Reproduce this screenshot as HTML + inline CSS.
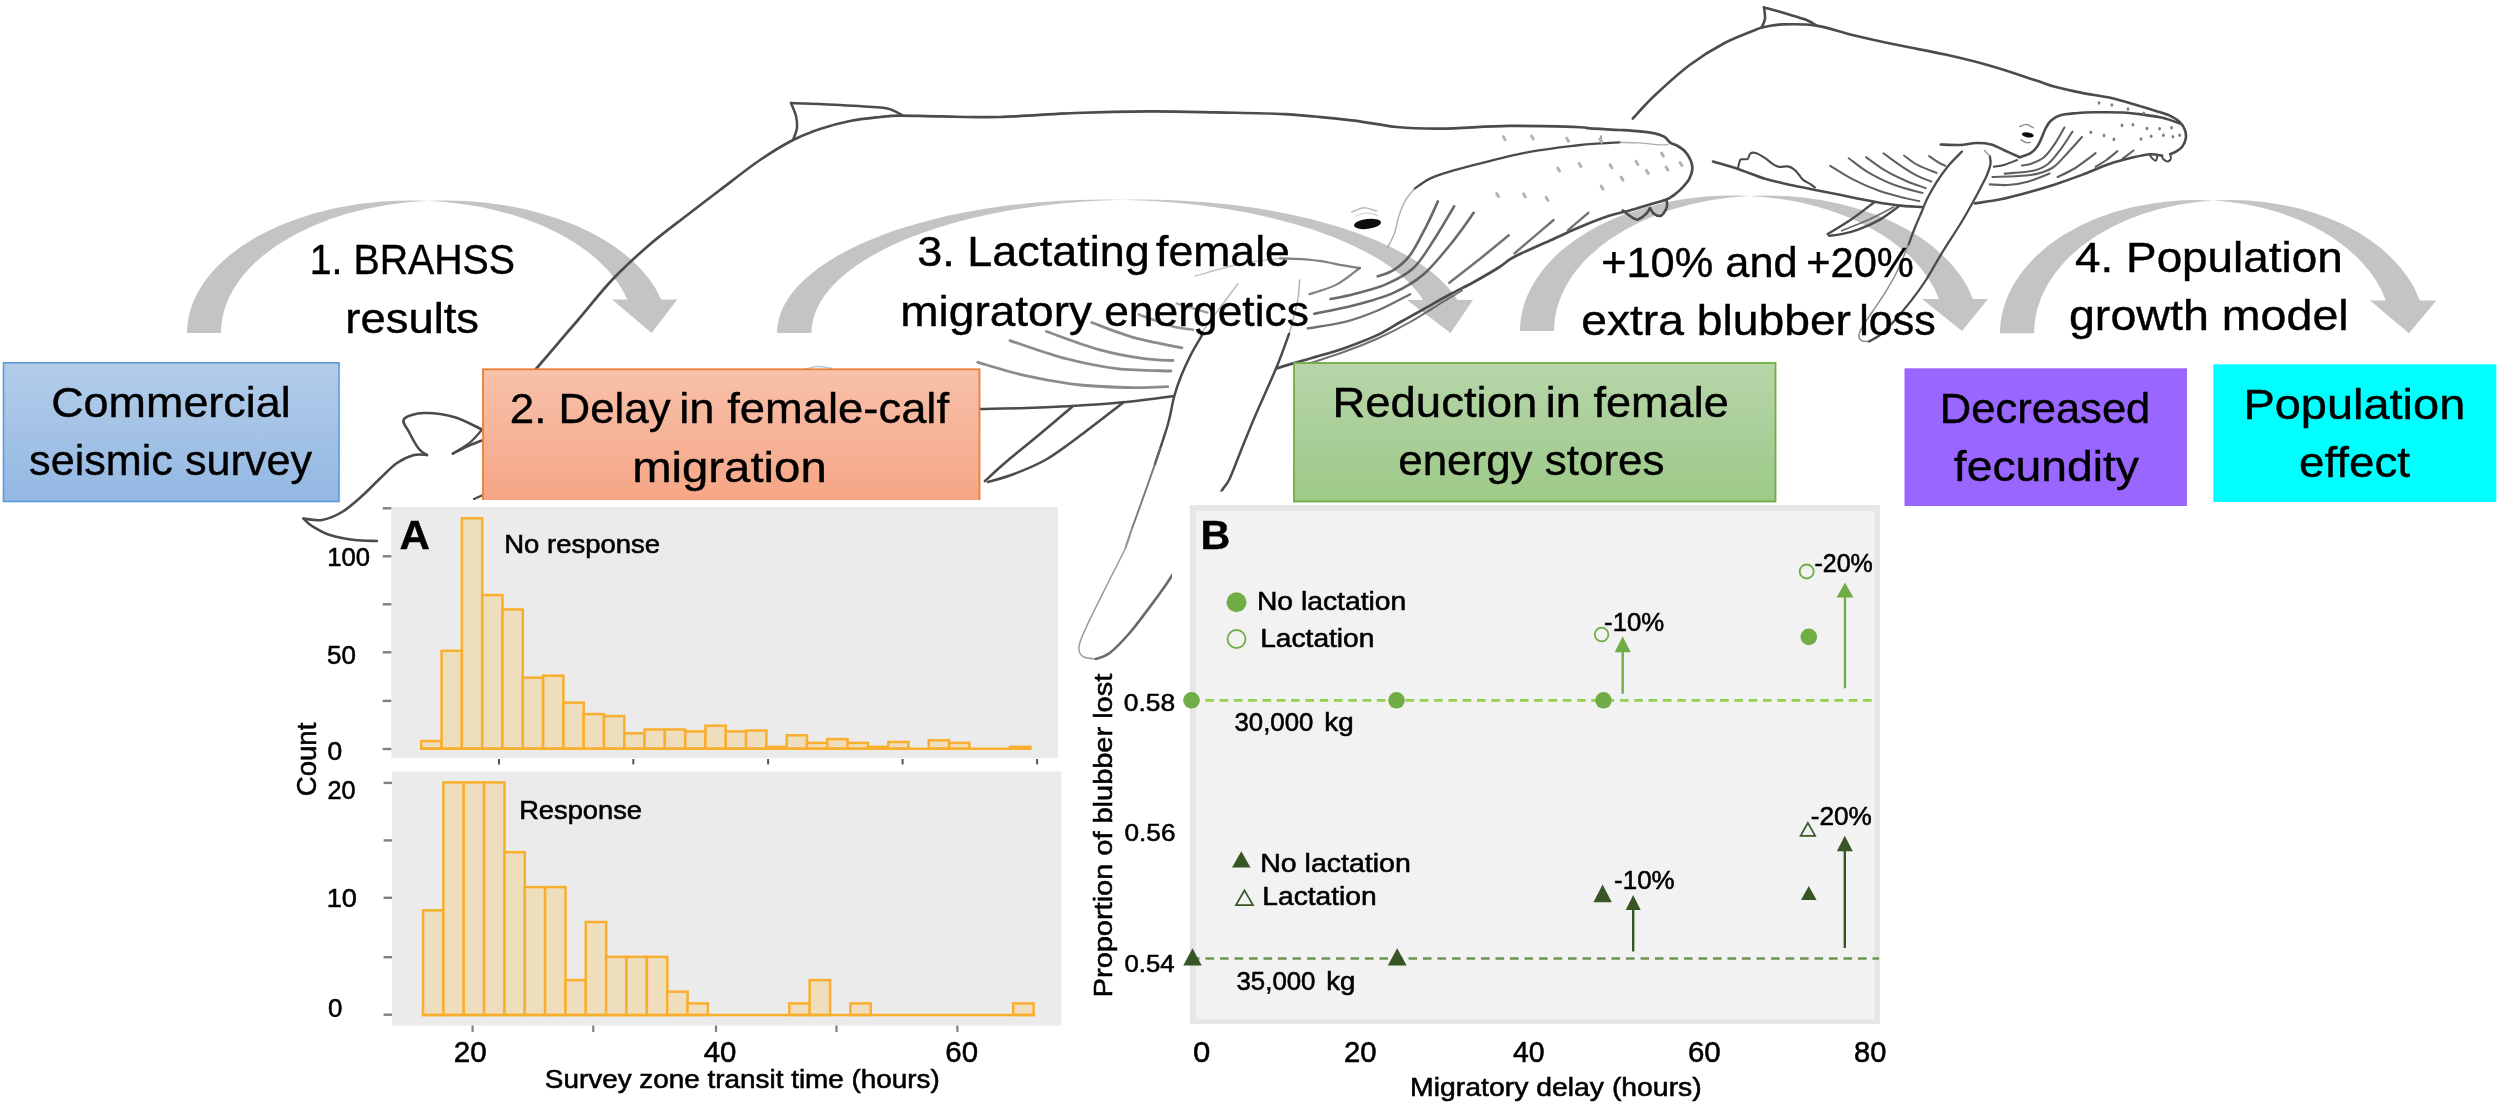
<!DOCTYPE html>
<html lang="en"><head><meta charset="utf-8"><title>Figure</title>
<style>html,body{margin:0;padding:0;background:#fff}svg{display:block}text{font-family:"Liberation Sans", Arial, sans-serif;}</style>
</head><body>
<svg width="2500" height="1106" viewBox="0 0 2500 1106">
<defs>
<linearGradient id="gb" x1="0" y1="0" x2="0" y2="1"><stop offset="0" stop-color="#b3cdea"/><stop offset="0.5" stop-color="#a4c2e6"/><stop offset="1" stop-color="#93b8e3"/></linearGradient>
<linearGradient id="go" x1="0" y1="0" x2="0" y2="1"><stop offset="0" stop-color="#f8c1aa"/><stop offset="0.5" stop-color="#f6b398"/><stop offset="1" stop-color="#f6a584"/></linearGradient>
<linearGradient id="gg" x1="0" y1="0" x2="0" y2="1"><stop offset="0" stop-color="#b6d6a8"/><stop offset="0.5" stop-color="#aacf9a"/><stop offset="1" stop-color="#9dca87"/></linearGradient>
<filter id="soft" x="0" y="0" width="2500" height="1106" filterUnits="userSpaceOnUse"><feGaussianBlur stdDeviation="0.7"/></filter>
</defs>
<rect width="2500" height="1106" fill="#fff"/>

<g id="arrows">
<path d="M187.0,333.0 A223.8,132.6 0 0 1 427.8,200.8 A223.8,132.6 0 0 1 661.3,299.5 L677.3,299.5 L651.6,333.0 L612.0,299.5 L627.3,299.5 A223.8,132.6 0 0 0 427.8,200.8 A223.8,132.6 0 0 0 221.0,333.0 Z" fill="#c4c4c4"/>
<path d="M777.0,333.0 A328.1,133.5 0 0 1 1122.4,199.7 A328.1,133.5 0 0 1 1457.6,300.0 L1473.0,300.0 L1450.5,333.0 L1407.0,300.0 L1423.1,300.0 A328.1,133.5 0 0 0 1122.4,199.7 A328.1,133.5 0 0 0 811.5,333.0 Z" fill="#c4c4c4"/>
<path d="M1520.0,331.0 A212.5,135.5 0 0 1 1749.5,195.9 A212.5,135.5 0 0 1 1973.0,299.0 L1988.0,299.0 L1962.0,331.0 L1922.0,299.0 L1939.0,299.0 A212.5,135.5 0 0 0 1749.5,195.9 A212.5,135.5 0 0 0 1554.0,331.0 Z" fill="#c4c4c4"/>
<path d="M2000.0,333.3 A196.0,133.3 0 0 1 2213.0,200.5 A196.0,133.3 0 0 1 2419.9,300.4 L2436.4,300.4 L2409.0,333.3 L2370.0,300.4 L2385.9,300.4 A196.0,133.3 0 0 0 2213.0,200.5 A196.0,133.3 0 0 0 2034.0,333.3 Z" fill="#c4c4c4"/>
</g>
<g id="whales" filter="url(#soft)"><path d="M536.0,369.0 C543.0,360.8 565.3,334.8 578.0,320.0 C590.7,305.2 600.3,292.3 612.0,280.0 C623.7,267.7 635.7,256.7 648.0,246.0 C660.3,235.3 674.0,225.3 686.0,216.0 C698.0,206.7 707.7,199.3 720.0,190.0 C732.3,180.7 747.8,168.3 760.0,160.0 C772.2,151.7 783.0,145.2 793.0,140.0 C803.0,134.8 810.5,132.2 820.0,129.0 C829.5,125.8 840.0,123.0 850.0,121.0 C860.0,119.0 871.7,117.9 880.0,117.0 C888.3,116.1 890.0,115.7 900.0,115.6 C910.0,115.5 923.3,116.2 940.0,116.4 C956.7,116.6 977.5,117.6 1000.0,117.0 C1022.5,116.4 1050.0,114.0 1075.0,113.0 C1100.0,112.0 1126.3,111.4 1150.0,111.3 C1173.7,111.2 1194.6,111.9 1217.0,112.4 C1239.4,112.9 1262.1,112.9 1284.6,114.2 C1307.1,115.5 1333.1,118.2 1351.8,120.3 C1370.5,122.4 1381.8,125.6 1396.7,127.0 C1411.7,128.4 1422.8,128.8 1441.5,128.6 C1460.2,128.4 1486.4,126.2 1508.8,125.9 C1531.2,125.6 1562.5,126.6 1576.0,127.0 C1589.5,127.4 1582.7,127.9 1590.0,128.4 C1597.3,128.9 1611.5,129.5 1619.8,130.0 C1628.1,130.5 1633.9,130.8 1639.7,131.4 C1645.5,132.0 1650.4,132.5 1654.6,133.4 C1658.8,134.3 1661.9,135.3 1664.6,136.9 C1667.2,138.5 1668.5,141.5 1670.5,142.9 C1672.5,144.3 1674.2,144.0 1676.5,145.3 C1678.8,146.6 1682.1,148.4 1684.4,150.8 C1686.7,153.2 1689.1,156.8 1690.4,159.8 C1691.7,162.8 1692.6,165.6 1692.4,168.7 C1692.2,171.8 1691.1,175.4 1689.4,178.6 C1687.7,181.8 1684.9,184.9 1682.4,187.6 C1679.9,190.3 1677.2,192.6 1674.5,194.6 C1671.8,196.6 1670.7,197.8 1666.5,199.5 C1662.3,201.2 1655.7,202.7 1649.6,204.5 C1643.5,206.3 1636.4,208.7 1629.8,210.5 C1623.2,212.3 1617.8,212.9 1609.9,215.5 C1602.0,218.1 1591.9,222.0 1582.5,225.9 C1573.1,229.8 1563.2,234.6 1553.6,238.9 C1544.0,243.2 1531.9,248.5 1524.7,251.9 C1517.5,255.3 1514.4,256.6 1510.2,259.1 C1506.0,261.6 1505.3,263.3 1499.5,267.0 C1493.7,270.7 1483.6,276.6 1475.3,281.2 C1467.0,285.8 1458.5,289.8 1449.7,294.5 C1440.9,299.2 1430.9,305.1 1422.6,309.7 C1414.3,314.3 1407.5,318.1 1400.0,322.3 C1392.5,326.5 1386.9,330.6 1377.7,334.9 C1368.5,339.2 1355.8,344.1 1345.0,347.9 C1334.2,351.7 1321.3,355.1 1312.6,357.7 C1303.9,360.3 1299.1,361.6 1293.0,363.4 C1286.9,365.2 1278.8,367.7 1276.0,368.6" fill="none" stroke="#4c4c4c" stroke-width="2.7" stroke-linecap="round" stroke-linejoin="round" opacity="1" />
<path d="M793.0,140.0 C793.7,138.0 796.5,132.0 797.0,128.0 C797.5,124.0 797.0,120.2 796.0,116.0 C795.0,111.8 791.8,105.2 791.0,103.0" fill="none" stroke="#4c4c4c" stroke-width="2.5" stroke-linecap="round" stroke-linejoin="round" opacity="1" />
<path d="M791.0,103.0 C799.2,103.3 825.2,104.2 840.0,105.0 C854.8,105.8 871.3,106.8 880.0,107.6 C888.7,108.4 888.3,108.8 892.0,110.0 C895.7,111.2 900.3,114.2 902.0,115.0" fill="none" stroke="#4c4c4c" stroke-width="2.5" stroke-linecap="round" stroke-linejoin="round" opacity="1" />
<path d="M481.0,429.0 C476.5,427.0 463.5,419.7 454.0,417.0 C444.5,414.3 432.3,412.7 424.0,413.0 C415.7,413.3 406.5,415.8 404.0,419.0 C401.5,422.2 406.5,427.0 409.0,432.0 C411.5,437.0 416.0,445.2 419.0,449.0 C422.0,452.8 425.7,454.0 427.0,455.0" fill="none" stroke="#4c4c4c" stroke-width="2.6" stroke-linecap="round" stroke-linejoin="round" opacity="1" />
<path d="M427.0,455.0 C424.8,455.0 419.0,453.7 414.0,455.0 C409.0,456.3 402.8,459.0 397.0,463.0 C391.2,467.0 385.3,473.5 379.5,479.0 C373.7,484.5 368.2,490.5 362.0,496.0 C355.8,501.5 348.7,508.0 342.0,512.0 C335.3,516.0 328.4,518.9 322.0,520.0 C315.6,521.1 306.7,518.8 303.6,518.6" fill="none" stroke="#4c4c4c" stroke-width="2.6" stroke-linecap="round" stroke-linejoin="round" opacity="1" />
<path d="M303.6,518.6 C305.0,519.8 307.6,523.3 312.0,526.0 C316.4,528.7 322.9,532.7 330.0,535.0 C337.1,537.3 346.8,539.0 354.6,540.0 C362.4,541.0 373.3,540.8 377.0,541.0" fill="none" stroke="#4c4c4c" stroke-width="2.6" stroke-linecap="round" stroke-linejoin="round" opacity="1" />
<path d="M452.8,453.6 C455.1,452.5 461.6,449.0 466.4,446.8 C471.1,444.6 478.8,441.7 481.3,440.7" fill="none" stroke="#4c4c4c" stroke-width="2.6" stroke-linecap="round" stroke-linejoin="round" opacity="1" />
<path d="M481.3,430.5 C479.5,432.4 475.2,438.1 470.5,442.0 C465.8,445.9 455.8,451.7 452.8,453.6" fill="none" stroke="#4c4c4c" stroke-width="2.2" stroke-linecap="round" stroke-linejoin="round" opacity="1" />
<path d="M474.0,499.0 L483.0,495.0" fill="none" stroke="#4c4c4c" stroke-width="2.4" stroke-linecap="round" stroke-linejoin="round" opacity="1" />
<path d="M979.9,409.0 C987.6,408.8 1010.6,408.5 1026.0,408.0 C1041.3,407.5 1055.9,406.9 1072.0,406.0 C1088.1,405.1 1105.7,404.0 1122.7,402.3 C1139.7,400.6 1165.5,397.1 1174.0,396.0" fill="none" stroke="#4c4c4c" stroke-width="2.5" stroke-linecap="round" stroke-linejoin="round" opacity="1" />
<path d="M1072.0,407.0 C1066.7,411.5 1051.0,424.8 1040.0,434.0 C1029.0,443.2 1015.2,454.2 1006.0,462.0 C996.8,469.8 988.5,477.8 985.0,481.0" fill="none" stroke="#4c4c4c" stroke-width="2.6" stroke-linecap="round" stroke-linejoin="round" opacity="1" />
<path d="M1122.7,403.0 C1116.4,407.8 1097.6,422.7 1085.0,432.0 C1072.4,441.3 1058.8,452.0 1047.0,459.0 C1035.2,466.0 1023.8,470.2 1014.0,474.0 C1004.2,477.8 992.3,480.7 988.0,482.0" fill="none" stroke="#4c4c4c" stroke-width="2.6" stroke-linecap="round" stroke-linejoin="round" opacity="1" />
<path d="M1238.0,283.6 C1235.3,287.2 1227.2,298.1 1222.0,305.0 C1216.8,311.9 1210.7,319.8 1207.0,325.0 C1203.3,330.2 1201.2,334.2 1200.0,336.0" fill="none" stroke="#9a9a9a" stroke-width="1.4" stroke-linecap="round" stroke-linejoin="round" opacity="0.7" />
<path d="M1202.0,335.4 C1200.2,338.4 1194.9,346.9 1191.5,353.5 C1188.1,360.1 1184.4,367.8 1181.5,375.0 C1178.6,382.2 1176.2,388.8 1174.0,397.0 C1171.8,405.2 1171.2,412.8 1168.0,424.0 C1164.8,435.2 1157.2,457.3 1155.0,464.0" fill="none" stroke="#4c4c4c" stroke-width="2.5" stroke-linecap="round" stroke-linejoin="round" opacity="1" />
<path d="M1160.0,449.0 C1159.2,451.5 1158.2,454.9 1155.0,464.0 C1151.8,473.1 1144.9,492.8 1141.0,503.6 C1137.1,514.4 1134.4,521.6 1131.8,529.0 C1129.2,536.4 1126.6,544.6 1125.6,547.7" fill="none" stroke="#6a6a6a" stroke-width="1.9" stroke-linecap="round" stroke-linejoin="round" opacity="0.9" />
<path d="M1131.8,529.0 C1130.8,532.1 1129.3,539.3 1125.6,547.7 C1121.9,556.1 1115.0,568.9 1109.7,579.5 C1104.4,590.1 1098.5,601.7 1093.8,611.3 C1089.1,620.9 1084.3,630.9 1081.8,637.2 C1079.3,643.5 1078.6,645.9 1078.9,649.2 C1079.2,652.5 1081.0,655.4 1083.8,657.0 C1086.6,658.6 1093.8,658.7 1095.8,659.0" fill="none" stroke="#9a9a9a" stroke-width="1.5" stroke-linecap="round" stroke-linejoin="round" opacity="1" />
<path d="M1095.8,659.0 C1098.1,658.0 1104.1,657.3 1109.7,653.0 C1115.3,648.7 1123.0,640.6 1129.6,633.0 C1136.2,625.4 1143.5,615.3 1149.5,607.4 C1155.5,599.5 1161.2,591.6 1165.4,585.5 C1169.7,579.4 1173.4,573.4 1175.0,571.0" fill="none" stroke="#6a6a6a" stroke-width="2.6" stroke-linecap="round" stroke-linejoin="round" opacity="1" />
<path d="M1299.7,280.0 C1299.4,283.0 1299.1,291.3 1298.0,298.0 C1296.9,304.7 1294.5,314.0 1293.0,320.0 C1291.5,326.0 1289.7,331.7 1289.0,334.0" fill="none" stroke="#9a9a9a" stroke-width="1.4" stroke-linecap="round" stroke-linejoin="round" opacity="0.8" />
<path d="M1289.0,334.0 C1286.8,339.8 1281.8,354.7 1276.0,368.6 C1270.2,382.5 1260.5,403.4 1254.5,417.5 C1248.5,431.6 1244.2,442.6 1240.0,453.0 C1235.8,463.4 1232.2,473.5 1229.0,480.0 C1225.8,486.5 1225.8,483.7 1221.0,492.0 C1216.2,500.3 1207.7,516.8 1200.0,530.0 C1192.3,543.2 1179.2,564.2 1175.0,571.0" fill="none" stroke="#4c4c4c" stroke-width="2.5" stroke-linecap="round" stroke-linejoin="round" opacity="1" />
<path d="M977.8,362.3 C985.9,364.6 1009.4,372.1 1026.6,375.9 C1043.8,379.7 1062.8,383.1 1080.9,385.0 C1099.0,386.9 1120.5,387.3 1135.0,387.6 C1149.5,387.9 1162.2,386.9 1167.7,386.7" fill="none" stroke="#5a5a5a" stroke-width="2.8" stroke-linecap="round" stroke-linejoin="round" opacity="0.7" />
<path d="M1010.0,340.6 C1018.8,343.5 1045.0,353.1 1062.8,357.8 C1080.6,362.5 1099.0,366.4 1117.0,368.6 C1135.0,370.8 1162.0,370.6 1171.0,371.0" fill="none" stroke="#5a5a5a" stroke-width="2.8" stroke-linecap="round" stroke-linejoin="round" opacity="0.7" />
<path d="M1046.5,331.5 C1055.2,334.5 1082.8,345.1 1099.0,349.6 C1115.2,354.1 1131.7,356.9 1144.0,358.7 C1156.3,360.5 1168.2,360.2 1173.0,360.5" fill="none" stroke="#5a5a5a" stroke-width="2.8" stroke-linecap="round" stroke-linejoin="round" opacity="0.7" />
<path d="M1091.7,322.5 C1098.9,325.1 1120.0,333.7 1135.0,337.9 C1150.0,342.1 1174.2,346.1 1182.0,347.8" fill="none" stroke="#5a5a5a" stroke-width="2.8" stroke-linecap="round" stroke-linejoin="round" opacity="0.7" />
<path d="M1138.7,314.4 C1144.1,316.3 1162.2,323.4 1171.3,326.0 C1180.3,328.6 1189.4,329.1 1193.0,329.7" fill="none" stroke="#5a5a5a" stroke-width="2.6" stroke-linecap="round" stroke-linejoin="round" opacity="0.65" />
<path d="M1176.7,303.5 L1207.5,312.6" fill="none" stroke="#5a5a5a" stroke-width="2.2" stroke-linecap="round" stroke-linejoin="round" opacity="0.6" />
<ellipse cx="1367.5" cy="223.9" rx="13.5" ry="5" fill="#0a0a0a" transform="rotate(-7 1367.5 223.9)"/>
<path d="M1351.8,212.0 C1353.8,211.3 1359.9,207.9 1364.0,207.7 C1368.1,207.5 1374.4,210.4 1376.5,211.0" fill="none" stroke="#bdbdbd" stroke-width="1.6" stroke-linecap="round" stroke-linejoin="round" opacity="1" />
<path d="M1356.0,216.0 C1357.7,215.5 1362.3,213.1 1366.0,213.0 C1369.7,212.9 1376.0,215.1 1378.0,215.5" fill="none" stroke="#cfcfcf" stroke-width="1.2" stroke-linecap="round" stroke-linejoin="round" opacity="1" />
<path d="M1619.8,142.4 C1616.7,142.6 1608.3,142.9 1601.0,143.4 C1593.7,143.9 1587.7,144.1 1576.0,145.5 C1564.3,146.9 1545.9,149.0 1531.0,151.7 C1516.1,154.4 1499.4,158.6 1486.4,161.8 C1473.4,165.0 1462.2,167.9 1452.8,170.7 C1443.4,173.5 1436.4,175.6 1430.0,178.6 C1423.6,181.6 1417.2,187.0 1414.6,188.7" fill="none" stroke="#4c4c4c" stroke-width="2.3" stroke-linecap="round" stroke-linejoin="round" opacity="1" />
<path d="M1619.8,142.4 C1623.1,142.5 1633.1,142.5 1639.7,142.9 C1646.3,143.3 1654.9,144.6 1659.6,144.9 C1664.3,145.2 1666.6,144.6 1668.0,144.5" fill="none" stroke="#9a9a9a" stroke-width="1.3" stroke-linecap="round" stroke-linejoin="round" opacity="0.8" />
<path d="M1601.0,143.0 L1601.0,136.0" fill="none" stroke="#6a6a6a" stroke-width="1.6" stroke-linecap="round" stroke-linejoin="round" opacity="0.8" />
<path d="M1414.6,188.7 C1413.1,190.6 1408.3,195.4 1405.7,199.9 C1403.1,204.4 1400.9,210.0 1399.0,215.6 C1397.1,221.2 1396.3,228.3 1394.4,233.5 C1392.5,238.7 1388.8,244.8 1387.7,247.0" fill="none" stroke="#9a9a9a" stroke-width="1.4" stroke-linecap="round" stroke-linejoin="round" opacity="0.8" />
<path d="M1666.5,199.5 C1666.6,200.7 1667.5,204.2 1667.0,206.5 C1666.5,208.8 1664.8,211.8 1663.6,213.4 C1662.4,215.0 1661.3,215.9 1659.6,215.9 C1657.9,215.9 1655.2,214.7 1653.6,213.4 C1652.0,212.1 1650.6,208.9 1650.0,208.0" fill="none" stroke="#4c4c4c" stroke-width="2.6" stroke-linecap="round" stroke-linejoin="round" opacity="1" />
<path d="M1622.8,210.5 C1623.7,211.2 1626.2,213.2 1628.0,214.5 C1629.8,215.8 1632.0,217.6 1633.7,218.4 C1635.4,219.2 1636.0,220.1 1638.0,219.4 C1640.0,218.7 1644.0,215.9 1646.0,214.0 C1648.0,212.1 1649.3,209.0 1650.0,208.0" fill="none" stroke="#4c4c4c" stroke-width="2.6" stroke-linecap="round" stroke-linejoin="round" opacity="1" />
<path d="M1437.9,201.4 C1436.0,205.5 1431.1,216.9 1426.5,225.8 C1421.9,234.7 1415.6,247.7 1410.2,255.0 C1404.8,262.3 1399.4,266.2 1394.0,269.8 C1388.6,273.4 1380.4,275.2 1377.7,276.3" fill="none" stroke="#4f4f4f" stroke-width="2.6" stroke-linecap="round" stroke-linejoin="round" opacity="0.85" />
<path d="M1454.2,206.3 C1450.9,211.7 1441.4,228.5 1434.6,238.8 C1427.8,249.1 1421.6,260.4 1413.5,268.0 C1405.4,275.6 1395.8,280.0 1385.8,284.4 C1375.8,288.8 1362.5,291.8 1353.3,294.2 C1344.1,296.6 1334.3,298.2 1330.5,299.0" fill="none" stroke="#4f4f4f" stroke-width="2.6" stroke-linecap="round" stroke-linejoin="round" opacity="0.85" />
<path d="M1473.7,212.8 C1469.9,218.0 1459.4,233.4 1451.0,243.7 C1442.6,254.0 1432.8,266.5 1423.3,274.6 C1413.8,282.8 1405.7,287.4 1394.0,292.6 C1382.3,297.8 1366.6,302.1 1353.3,305.6 C1340.0,309.1 1320.7,312.4 1314.2,313.7" fill="none" stroke="#4f4f4f" stroke-width="2.6" stroke-linecap="round" stroke-linejoin="round" opacity="0.85" />
<path d="M1410.2,294.2 C1404.8,296.9 1388.6,305.9 1377.7,310.5 C1366.8,315.1 1356.7,318.9 1345.0,321.9 C1333.3,324.9 1313.9,327.3 1307.7,328.4" fill="none" stroke="#4f4f4f" stroke-width="2.4" stroke-linecap="round" stroke-linejoin="round" opacity="0.8" />
<path d="M1508.8,235.3 C1504.2,239.0 1491.2,249.8 1481.3,257.7 C1471.4,265.6 1454.6,278.6 1449.3,282.8" fill="none" stroke="#4f4f4f" stroke-width="2.4" stroke-linecap="round" stroke-linejoin="round" opacity="0.8" />
<path d="M1553.6,220.0 C1548.8,224.1 1531.2,239.1 1524.7,244.7 C1518.2,250.2 1516.2,251.9 1514.5,253.3" fill="none" stroke="#4f4f4f" stroke-width="2.4" stroke-linecap="round" stroke-linejoin="round" opacity="0.8" />
<path d="M1588.3,212.8 L1568.0,230.2" fill="none" stroke="#4f4f4f" stroke-width="2.4" stroke-linecap="round" stroke-linejoin="round" opacity="0.8" />
<path d="M1297.0,367.5 C1305.0,364.8 1331.5,356.3 1345.0,351.5 C1358.5,346.7 1366.8,343.4 1377.7,338.5 C1388.6,333.6 1399.4,328.1 1410.2,322.0 C1421.0,315.9 1434.2,307.2 1442.8,302.0 C1451.4,296.8 1458.8,292.4 1462.0,290.5" fill="none" stroke="#4f4f4f" stroke-width="2.0" stroke-linecap="round" stroke-linejoin="round" opacity="0.8" />
<path d="M1359.8,268.0 C1357.3,267.6 1352.9,267.0 1345.0,265.7 C1337.1,264.4 1323.4,261.2 1312.6,260.0 C1301.8,258.8 1285.4,258.7 1280.0,258.4" fill="none" stroke="#6a6a6a" stroke-width="2.2" stroke-linecap="round" stroke-linejoin="round" opacity="0.85" />
<path d="M1280.0,258.4 C1273.3,259.3 1254.2,261.1 1240.0,264.0 C1225.8,266.9 1202.5,274.0 1195.0,276.0" fill="none" stroke="#9a9a9a" stroke-width="1.3" stroke-linecap="round" stroke-linejoin="round" opacity="0.6" />
<path d="M1359.8,268.0 C1356.0,270.7 1345.4,280.0 1337.0,284.4 C1328.6,288.8 1313.9,292.6 1309.3,294.2" fill="none" stroke="#6a6a6a" stroke-width="2.2" stroke-linecap="round" stroke-linejoin="round" opacity="0.85" />
<path d="M1503.4,136.7 L1505.2,139.7" stroke="#b2b2b2" stroke-width="3" stroke-linecap="round"/>
<path d="M1531.5,136.0 L1533.3,139.0" stroke="#b2b2b2" stroke-width="3" stroke-linecap="round"/>
<path d="M1566.7,138.3 L1568.5,141.3" stroke="#b2b2b2" stroke-width="3" stroke-linecap="round"/>
<path d="M1599.9,139.0 L1601.7,142.0" stroke="#b2b2b2" stroke-width="3" stroke-linecap="round"/>
<path d="M1557.7,168.1 L1559.5,171.1" stroke="#b2b2b2" stroke-width="3" stroke-linecap="round"/>
<path d="M1579.1,163.5 L1580.9,166.5" stroke="#b2b2b2" stroke-width="3" stroke-linecap="round"/>
<path d="M1610.0,164.8 L1611.8,167.8" stroke="#b2b2b2" stroke-width="3" stroke-linecap="round"/>
<path d="M1636.1,161.4 L1637.9,164.4" stroke="#b2b2b2" stroke-width="3" stroke-linecap="round"/>
<path d="M1661.5,153.1 L1663.3,156.1" stroke="#b2b2b2" stroke-width="3" stroke-linecap="round"/>
<path d="M1680.1,162.5 L1681.9,165.5" stroke="#b2b2b2" stroke-width="3" stroke-linecap="round"/>
<path d="M1666.1,167.0 L1667.9,170.0" stroke="#b2b2b2" stroke-width="3" stroke-linecap="round"/>
<path d="M1646.5,170.4 L1648.3,173.4" stroke="#b2b2b2" stroke-width="3" stroke-linecap="round"/>
<path d="M1621.1,177.1 L1622.9,180.1" stroke="#b2b2b2" stroke-width="3" stroke-linecap="round"/>
<path d="M1601.1,186.1 L1602.9,189.1" stroke="#b2b2b2" stroke-width="3" stroke-linecap="round"/>
<path d="M1496.7,193.5 L1498.5,196.5" stroke="#b2b2b2" stroke-width="3" stroke-linecap="round"/>
<path d="M1523.6,193.9 L1525.4,196.9" stroke="#b2b2b2" stroke-width="3" stroke-linecap="round"/>
<path d="M1546.1,197.3 L1547.9,200.3" stroke="#b2b2b2" stroke-width="3" stroke-linecap="round"/>
<path d="M805.0,369.0 C807.2,368.6 813.5,366.6 818.0,366.5 C822.5,366.4 829.7,368.2 832.0,368.5" fill="none" stroke="#a9c4d8" stroke-width="1.4" stroke-linecap="round" stroke-linejoin="round" opacity="0.9" />
<path d="M1632.8,118.5 C1636.5,114.6 1645.4,104.2 1654.9,95.3 C1664.4,86.4 1678.1,73.7 1689.7,65.0 C1701.3,56.3 1712.6,49.3 1724.6,43.0 C1736.6,36.7 1755.6,30.0 1761.8,27.4" fill="none" stroke="#4c4c4c" stroke-width="2.6" stroke-linecap="round" stroke-linejoin="round" opacity="1" />
<path d="M1761.8,27.4 C1762.3,25.9 1764.6,21.9 1765.0,18.6 C1765.4,15.3 1764.2,9.3 1764.0,7.4" fill="none" stroke="#4c4c4c" stroke-width="2.6" stroke-linecap="round" stroke-linejoin="round" opacity="1" />
<path d="M1764.0,7.4 C1767.9,8.5 1780.3,11.9 1787.3,14.0 C1794.3,16.1 1801.2,17.9 1806.0,19.8 C1810.8,21.7 1814.7,24.6 1816.4,25.6" fill="none" stroke="#4c4c4c" stroke-width="2.6" stroke-linecap="round" stroke-linejoin="round" opacity="1" />
<path d="M1761.8,27.4 C1765.3,26.9 1773.6,24.7 1782.7,24.4 C1791.8,24.1 1804.8,23.9 1816.4,25.6 C1828.0,27.4 1838.7,31.6 1852.4,34.9 C1866.2,38.2 1883.4,42.0 1898.9,45.3 C1914.4,48.6 1929.9,51.1 1945.4,54.6 C1960.9,58.1 1976.9,62.0 1991.8,66.2 C2006.7,70.4 2024.1,76.6 2034.6,80.0 C2045.1,83.4 2047.0,84.6 2054.9,86.8 C2062.8,89.0 2072.9,91.1 2082.0,92.9 C2091.1,94.7 2100.1,95.6 2109.2,97.6 C2118.2,99.6 2128.4,102.7 2136.3,105.0 C2144.2,107.3 2150.9,109.4 2156.6,111.2 C2162.2,113.0 2166.3,114.1 2170.2,115.9 C2174.0,117.7 2177.2,119.6 2179.7,122.0 C2182.2,124.4 2184.0,127.5 2185.0,130.2 C2186.0,132.9 2186.2,135.6 2185.8,138.3 C2185.4,141.0 2184.1,144.1 2182.4,146.4 C2180.7,148.7 2177.6,150.7 2175.6,151.9 C2173.6,153.2 2171.1,153.6 2170.2,153.9" fill="none" stroke="#4c4c4c" stroke-width="2.6" stroke-linecap="round" stroke-linejoin="round" opacity="1" />
<path d="M2170.2,153.9 C2170.3,154.7 2171.2,157.3 2170.8,158.6 C2170.4,159.8 2168.7,161.3 2167.5,161.4 C2166.3,161.5 2164.3,160.2 2163.4,159.3 C2162.5,158.4 2162.2,156.5 2162.0,155.9" fill="none" stroke="#4c4c4c" stroke-width="2.0" stroke-linecap="round" stroke-linejoin="round" opacity="1" />
<path d="M2157.3,155.9 C2157.1,156.7 2156.8,160.2 2156.0,160.7 C2155.2,161.1 2153.5,159.6 2152.5,158.6 C2151.5,157.6 2150.2,155.3 2149.8,154.6" fill="none" stroke="#4c4c4c" stroke-width="2.0" stroke-linecap="round" stroke-linejoin="round" opacity="1" />
<path d="M2162.0,155.5 C2160.0,155.3 2154.5,154.0 2149.8,154.3 C2145.1,154.6 2140.4,155.7 2133.6,157.3 C2126.8,158.9 2117.8,161.1 2109.2,164.0 C2100.6,166.9 2091.1,171.5 2082.0,174.9 C2072.9,178.3 2063.9,181.5 2054.9,184.4 C2045.9,187.3 2036.8,190.0 2027.8,192.5 C2018.8,195.0 2009.5,197.5 2000.7,199.3 C1991.9,201.1 1979.2,202.7 1974.9,203.4" fill="none" stroke="#4c4c4c" stroke-width="2.6" stroke-linecap="round" stroke-linejoin="round" opacity="1" />
<path d="M1922.5,207.0 C1918.3,206.7 1905.7,206.3 1897.5,205.4 C1889.3,204.5 1883.0,203.3 1873.6,201.6 C1864.2,199.9 1850.9,197.1 1841.0,195.1 C1831.1,193.1 1822.1,191.3 1814.0,189.7 C1805.9,188.1 1800.4,187.1 1792.2,185.3 C1784.0,183.5 1774.1,181.5 1765.1,178.8 C1756.1,176.1 1746.7,171.9 1738.0,169.0 C1729.3,166.1 1717.2,162.8 1713.0,161.5" fill="none" stroke="#4c4c4c" stroke-width="2.6" stroke-linecap="round" stroke-linejoin="round" opacity="1" />
<path d="M1738.0,168.0 C1738.3,166.9 1739.1,162.9 1739.6,161.5 C1740.1,160.1 1739.8,159.8 1741.2,159.3 C1742.6,158.9 1746.2,159.8 1747.7,158.8 C1749.2,157.8 1749.0,154.2 1750.5,153.3 C1752.0,152.4 1754.0,152.5 1756.4,153.3 C1758.8,154.1 1762.2,156.3 1765.1,158.2 C1768.0,160.1 1771.4,163.2 1773.8,164.7 C1776.2,166.1 1776.8,166.6 1779.2,166.9 C1781.6,167.2 1785.4,166.0 1787.9,166.4 C1790.4,166.8 1792.6,168.2 1794.4,169.6 C1796.2,170.9 1797.3,172.8 1798.8,174.5 C1800.2,176.2 1801.1,178.3 1803.1,179.9 C1805.1,181.5 1808.7,183.0 1810.7,184.3 C1812.7,185.6 1814.3,187.0 1815.0,187.5" fill="none" stroke="#4c4c4c" stroke-width="2.1" stroke-linecap="round" stroke-linejoin="round" opacity="1" />
<path d="M2179.7,123.4 C2177.0,122.5 2169.5,119.5 2163.4,118.0 C2157.3,116.5 2149.8,115.5 2143.0,114.6 C2136.2,113.7 2130.6,112.9 2122.7,112.5 C2114.8,112.1 2103.5,112.2 2095.6,112.3 C2087.7,112.4 2081.2,112.7 2075.3,113.2 C2069.4,113.7 2064.4,114.0 2060.3,115.3 C2056.2,116.5 2053.3,118.5 2050.8,120.7 C2048.3,123.0 2047.0,125.9 2045.4,128.8 C2043.8,131.7 2042.8,135.4 2041.4,138.3 C2040.1,141.2 2039.1,143.9 2037.3,146.4 C2035.5,148.9 2033.4,151.4 2030.5,153.2 C2027.6,155.0 2021.5,156.6 2019.7,157.3" fill="none" stroke="#4c4c4c" stroke-width="2.6" stroke-linecap="round" stroke-linejoin="round" opacity="1" />
<path d="M1940.7,144.5 C1943.9,144.6 1954.1,145.2 1960.0,145.0 C1965.9,144.8 1971.1,143.1 1976.3,143.0 C1981.5,142.9 1986.5,143.2 1991.2,144.4 C1995.9,145.7 2000.0,148.3 2004.7,150.5 C2009.5,152.7 2017.2,156.2 2019.7,157.3" fill="none" stroke="#4c4c4c" stroke-width="2.6" stroke-linecap="round" stroke-linejoin="round" opacity="1" />
<path d="M1993.9,166.8 C1995.7,166.5 2000.9,165.8 2004.7,164.7 C2008.5,163.6 2015.0,160.8 2017.0,160.0" fill="none" stroke="#4c4c4c" stroke-width="2.0" stroke-linecap="round" stroke-linejoin="round" opacity="1" />
<ellipse cx="2027.8" cy="134.9" rx="6" ry="2.5" fill="#111" transform="rotate(8 2027.8 134.9)"/>
<path d="M2019.7,126.6 C2020.8,126.2 2024.2,124.2 2026.4,124.4 C2028.7,124.6 2032.1,127.2 2033.2,127.7" fill="none" stroke="#8a8a8a" stroke-width="1.4" stroke-linecap="round" stroke-linejoin="round" opacity="1" />
<path d="M2021.0,139.7 C2021.9,140.2 2024.8,142.2 2026.4,142.6 C2028.0,143.0 2029.8,142.3 2030.5,142.2" fill="none" stroke="#8a8a8a" stroke-width="1.4" stroke-linecap="round" stroke-linejoin="round" opacity="1" />
<path d="M1962.0,151.5 C1959.6,154.1 1951.6,161.8 1947.4,166.9 C1943.2,172.0 1940.0,176.7 1936.6,182.1 C1933.2,187.5 1929.3,194.4 1926.8,199.5 C1924.3,204.6 1923.4,207.8 1921.4,212.5 C1919.4,217.2 1917.1,222.3 1914.9,227.7 C1912.7,233.1 1909.5,242.1 1908.4,245.0" fill="none" stroke="#4c4c4c" stroke-width="2.3" stroke-linecap="round" stroke-linejoin="round" opacity="1" />
<path d="M1908.4,245.0 C1906.5,249.5 1900.8,263.9 1896.8,272.0 C1892.8,280.1 1888.6,287.0 1884.5,293.7 C1880.4,300.4 1875.8,306.6 1872.2,312.0 C1868.6,317.4 1865.2,322.2 1863.0,326.0 C1860.8,329.8 1859.2,332.6 1859.0,335.0 C1858.8,337.4 1859.8,339.5 1861.5,340.6 C1863.2,341.7 1867.8,341.3 1869.0,341.4" fill="none" stroke="#8c8c8c" stroke-width="1.5" stroke-linecap="round" stroke-linejoin="round" opacity="1" />
<path d="M1869.0,341.4 C1870.8,340.3 1875.9,338.3 1880.0,335.0 C1884.1,331.7 1888.6,327.0 1893.7,321.4 C1898.8,315.8 1905.2,308.3 1910.6,301.4 C1916.0,294.5 1920.9,287.9 1926.0,280.0 C1931.1,272.1 1935.7,263.1 1941.4,253.8 C1947.1,244.6 1954.7,233.1 1960.0,224.5 C1965.3,215.9 1969.5,208.2 1973.0,202.0 C1976.5,195.8 1978.7,191.5 1981.0,187.0 C1983.3,182.5 1985.4,178.8 1987.0,175.0 C1988.6,171.2 1990.0,167.2 1990.5,164.0 C1991.0,160.8 1989.9,157.3 1989.8,156.0" fill="none" stroke="#4c4c4c" stroke-width="2.3" stroke-linecap="round" stroke-linejoin="round" opacity="1" />
<path d="M1989.8,156.0 L1984.4,150.5" fill="none" stroke="#9a9a9a" stroke-width="1.4" stroke-linecap="round" stroke-linejoin="round" opacity="1" />
<path d="M1873.6,202.7 C1870.0,205.4 1859.6,213.8 1851.9,219.0 C1844.2,224.2 1831.6,231.7 1827.5,234.2" fill="none" stroke="#4c4c4c" stroke-width="2.4" stroke-linecap="round" stroke-linejoin="round" opacity="1" />
<path d="M1898.6,206.5 C1895.3,208.8 1886.0,216.2 1879.1,220.1 C1872.2,224.0 1863.8,227.5 1857.4,229.8 C1851.1,232.2 1845.7,233.2 1841.0,234.2 C1836.3,235.2 1831.1,235.5 1829.1,235.8" fill="none" stroke="#4c4c4c" stroke-width="2.4" stroke-linecap="round" stroke-linejoin="round" opacity="1" />
<path d="M1893.7,207.0 C1889.4,209.2 1876.7,216.1 1868.0,220.0 C1859.3,223.9 1845.9,228.9 1841.5,230.7" fill="none" stroke="#6a6a6a" stroke-width="1.6" stroke-linecap="round" stroke-linejoin="round" opacity="1" />
<path d="M1830.2,165.8 C1833.8,168.0 1843.8,174.6 1851.9,178.8 C1860.1,183.0 1870.0,187.5 1879.1,190.8 C1888.1,194.1 1899.5,196.7 1906.2,198.4 C1912.9,200.1 1917.0,200.7 1919.2,201.1" fill="none" stroke="#4f4f4f" stroke-width="2.0" stroke-linecap="round" stroke-linejoin="round" opacity="0.9" />
<path d="M1848.7,158.2 C1852.0,160.5 1860.4,167.8 1868.2,172.3 C1876.0,176.8 1886.2,181.9 1895.3,185.3 C1904.3,188.7 1918.0,191.6 1922.5,192.9" fill="none" stroke="#4f4f4f" stroke-width="2.0" stroke-linecap="round" stroke-linejoin="round" opacity="0.9" />
<path d="M1866.0,157.1 C1869.1,159.3 1877.8,166.2 1884.5,170.2 C1891.2,174.2 1899.3,178.0 1906.2,181.0 C1913.1,184.0 1922.5,186.9 1925.7,188.1" fill="none" stroke="#4f4f4f" stroke-width="2.0" stroke-linecap="round" stroke-linejoin="round" opacity="0.9" />
<path d="M1883.4,153.3 C1886.3,155.4 1895.2,162.1 1900.8,165.8 C1906.4,169.5 1911.9,173.0 1917.0,175.6 C1922.1,178.2 1928.8,180.5 1931.2,181.5" fill="none" stroke="#4f4f4f" stroke-width="2.0" stroke-linecap="round" stroke-linejoin="round" opacity="0.9" />
<path d="M1904.0,155.5 C1906.2,157.0 1911.6,161.8 1917.0,164.7 C1922.4,167.6 1933.3,171.5 1936.6,172.9" fill="none" stroke="#4f4f4f" stroke-width="2.0" stroke-linecap="round" stroke-linejoin="round" opacity="0.9" />
<path d="M1929.0,156.0 C1930.6,157.1 1936.0,161.0 1938.7,162.6 C1941.4,164.2 1944.2,165.3 1945.3,165.8" fill="none" stroke="#4f4f4f" stroke-width="2.0" stroke-linecap="round" stroke-linejoin="round" opacity="0.9" />
<path d="M2064.4,127.5 C2062.8,130.2 2058.3,138.7 2054.9,143.7 C2051.5,148.7 2048.1,153.9 2044.0,157.3 C2039.9,160.7 2034.2,162.6 2030.5,164.0 C2026.8,165.4 2023.4,165.2 2022.0,165.5" fill="none" stroke="#4f4f4f" stroke-width="2.1" stroke-linecap="round" stroke-linejoin="round" opacity="0.9" />
<path d="M2072.5,131.5 C2070.7,134.2 2065.8,142.4 2061.7,147.8 C2057.6,153.2 2052.8,160.2 2048.0,164.0 C2043.2,167.8 2040.4,169.2 2033.2,170.8 C2026.0,172.4 2009.5,173.1 2004.7,173.6" fill="none" stroke="#4f4f4f" stroke-width="2.1" stroke-linecap="round" stroke-linejoin="round" opacity="0.9" />
<path d="M2082.0,137.0 C2079.8,139.5 2073.5,146.7 2068.5,151.9 C2063.5,157.1 2058.5,164.2 2052.2,168.0 C2045.9,171.8 2040.5,173.5 2030.5,175.0 C2020.5,176.5 1998.8,176.7 1992.5,177.0" fill="none" stroke="#4f4f4f" stroke-width="2.1" stroke-linecap="round" stroke-linejoin="round" opacity="0.9" />
<path d="M2049.5,173.6 C2045.9,174.9 2034.8,179.8 2027.8,181.7 C2020.8,183.6 2013.8,184.6 2007.5,185.0 C2001.2,185.4 1992.8,184.5 1989.8,184.4" fill="none" stroke="#4f4f4f" stroke-width="2.1" stroke-linecap="round" stroke-linejoin="round" opacity="0.9" />
<path d="M2095.6,153.2 C2092.2,155.7 2081.6,164.0 2075.3,168.0 C2069.0,172.0 2060.6,175.5 2057.6,177.0" fill="none" stroke="#4f4f4f" stroke-width="2.1" stroke-linecap="round" stroke-linejoin="round" opacity="0.9" />
<path d="M2117.3,151.2 C2115.5,152.7 2110.0,157.4 2106.4,160.0 C2102.8,162.6 2097.4,165.7 2095.6,166.8" fill="none" stroke="#4f4f4f" stroke-width="2.1" stroke-linecap="round" stroke-linejoin="round" opacity="0.9" />
<path d="M2133.6,150.5 L2122.7,158.6" fill="none" stroke="#4f4f4f" stroke-width="2.1" stroke-linecap="round" stroke-linejoin="round" opacity="0.9" />
<ellipse cx="2099.0" cy="103.0" rx="1.4" ry="1.8" fill="#7d7d7d"/>
<ellipse cx="2111.9" cy="105.0" rx="1.4" ry="1.8" fill="#7d7d7d"/>
<ellipse cx="2128.0" cy="109.0" rx="1.4" ry="1.8" fill="#7d7d7d"/>
<ellipse cx="2143.7" cy="113.2" rx="1.4" ry="1.8" fill="#7d7d7d"/>
<ellipse cx="2122.0" cy="125.4" rx="1.4" ry="1.8" fill="#7d7d7d"/>
<ellipse cx="2132.9" cy="124.7" rx="1.4" ry="1.8" fill="#7d7d7d"/>
<ellipse cx="2147.0" cy="128.5" rx="1.4" ry="1.8" fill="#7d7d7d"/>
<ellipse cx="2159.6" cy="128.8" rx="1.4" ry="1.8" fill="#7d7d7d"/>
<ellipse cx="2171.5" cy="127.7" rx="1.4" ry="1.8" fill="#7d7d7d"/>
<ellipse cx="2090.8" cy="132.2" rx="1.4" ry="1.8" fill="#7d7d7d"/>
<ellipse cx="2104.0" cy="135.6" rx="1.4" ry="1.8" fill="#7d7d7d"/>
<ellipse cx="2113.9" cy="139.4" rx="1.4" ry="1.8" fill="#7d7d7d"/>
<ellipse cx="2141.0" cy="139.0" rx="1.4" ry="1.8" fill="#7d7d7d"/>
<ellipse cx="2151.2" cy="136.3" rx="1.4" ry="1.8" fill="#7d7d7d"/>
<ellipse cx="2163.4" cy="135.3" rx="1.4" ry="1.8" fill="#7d7d7d"/>
<ellipse cx="2172.9" cy="136.7" rx="1.4" ry="1.8" fill="#7d7d7d"/>
<ellipse cx="2179.7" cy="135.3" rx="1.4" ry="1.8" fill="#7d7d7d"/></g>
<rect x="378" y="500" width="690" height="540" fill="#fff"/>
<rect x="1172" y="491.5" width="716" height="545" fill="#fff"/>
<rect x="3.5" y="362.8" width="335.5" height="138.7" fill="url(#gb)" stroke="#5b9bd5" stroke-width="1.6"/>
<rect x="483" y="369.3" width="496.5" height="135" fill="url(#go)" stroke="#ed7d31" stroke-width="1.8"/>
<rect x="1294" y="363" width="481.5" height="138.5" fill="url(#gg)" stroke="#70ad47" stroke-width="1.8"/>
<rect x="1904.5" y="368.3" width="282.5" height="137.7" fill="#9966ff"/>
<rect x="2213.3" y="364.3" width="283" height="137.7" fill="#00ffff"/>
<rect x="378" y="500" width="690" height="8" fill="#fff"/>
<text x="51.20" y="417.0" font-size="42.5" font-weight="normal" fill="#000" stroke="#000" stroke-width="0.4" textLength="239.50" lengthAdjust="spacingAndGlyphs" >Commercial</text>
<text x="29.10" y="475.0" font-size="42.5" font-weight="normal" fill="#000" stroke="#000" stroke-width="0.4" textLength="282.90" lengthAdjust="spacingAndGlyphs" >seismic survey</text>
<text x="509.77" y="422.5" font-size="42.5" font-weight="normal" fill="#000" stroke="#000" stroke-width="0.4" textLength="160.80" lengthAdjust="spacingAndGlyphs" >2. Delay</text>
<text x="679.30" y="422.5" font-size="42.5" font-weight="normal" fill="#000" stroke="#000" stroke-width="0.4" textLength="269.75" lengthAdjust="spacingAndGlyphs" >in female-calf</text>
<text x="632.16" y="482.0" font-size="42.5" font-weight="normal" fill="#000" stroke="#000" stroke-width="0.4" textLength="194.54" lengthAdjust="spacingAndGlyphs" >migration</text>
<text x="1332.40" y="416.6" font-size="42.5" font-weight="normal" fill="#000" stroke="#000" stroke-width="0.4" textLength="204.92" lengthAdjust="spacingAndGlyphs" >Reduction</text>
<text x="1545.87" y="416.6" font-size="42.5" font-weight="normal" fill="#000" stroke="#000" stroke-width="0.4" textLength="182.93" lengthAdjust="spacingAndGlyphs" >in female</text>
<text x="1398.20" y="474.8" font-size="42.5" font-weight="normal" fill="#000" stroke="#000" stroke-width="0.4" textLength="266.27" lengthAdjust="spacingAndGlyphs" >energy stores</text>
<text x="1939.78" y="422.7" font-size="42.5" font-weight="normal" fill="#000" stroke="#000" stroke-width="0.4" textLength="210.54" lengthAdjust="spacingAndGlyphs" >Decreased</text>
<text x="1953.86" y="481.4" font-size="42.5" font-weight="normal" fill="#000" stroke="#000" stroke-width="0.4" textLength="185.14" lengthAdjust="spacingAndGlyphs" >fecundity</text>
<text x="2243.40" y="418.7" font-size="42.5" font-weight="normal" fill="#000" stroke="#000" stroke-width="0.4" textLength="221.87" lengthAdjust="spacingAndGlyphs" >Population</text>
<text x="2298.96" y="477.2" font-size="42.5" font-weight="normal" fill="#000" stroke="#000" stroke-width="0.4" textLength="110.99" lengthAdjust="spacingAndGlyphs" >effect</text>
<text x="309.73" y="274.3" font-size="42.3" font-weight="normal" fill="#000" stroke="#000" stroke-width="0.4" textLength="205.31" lengthAdjust="spacingAndGlyphs" >1. BRAHSS</text>
<text x="345.30" y="332.9" font-size="42.3" font-weight="normal" fill="#000" stroke="#000" stroke-width="0.4" textLength="133.74" lengthAdjust="spacingAndGlyphs" >results</text>
<text x="917.34" y="266.0" font-size="42.3" font-weight="normal" fill="#000" stroke="#000" stroke-width="0.4" textLength="232.41" lengthAdjust="spacingAndGlyphs" >3. Lactating</text>
<text x="1156.05" y="266.0" font-size="42.3" font-weight="normal" fill="#000" stroke="#000" stroke-width="0.4" textLength="133.80" lengthAdjust="spacingAndGlyphs" >female</text>
<text x="900.30" y="325.5" font-size="42.3" font-weight="normal" fill="#000" stroke="#000" stroke-width="0.4" textLength="191.70" lengthAdjust="spacingAndGlyphs" >migratory</text>
<text x="1104.15" y="325.5" font-size="42.3" font-weight="normal" fill="#000" stroke="#000" stroke-width="0.4" textLength="204.75" lengthAdjust="spacingAndGlyphs" >energetics</text>
<text x="1601.20" y="276.6" font-size="42.3" font-weight="normal" fill="#000" stroke="#000" stroke-width="0.4" textLength="196.50" lengthAdjust="spacingAndGlyphs" >+10% and</text>
<text x="1806.20" y="276.6" font-size="42.3" font-weight="normal" fill="#000" stroke="#000" stroke-width="0.4" textLength="107.70" lengthAdjust="spacingAndGlyphs" >+20%</text>
<text x="1581.20" y="335.0" font-size="42.3" font-weight="normal" fill="#000" stroke="#000" stroke-width="0.4" textLength="269.80" lengthAdjust="spacingAndGlyphs" >extra blubber</text>
<text x="1859.30" y="335.0" font-size="42.3" font-weight="normal" fill="#000" stroke="#000" stroke-width="0.4" textLength="76.50" lengthAdjust="spacingAndGlyphs" >loss</text>
<text x="2075.10" y="272.4" font-size="42.3" font-weight="normal" fill="#000" stroke="#000" stroke-width="0.4" textLength="267.60" lengthAdjust="spacingAndGlyphs" >4. Population</text>
<text x="2068.96" y="330.0" font-size="42.3" font-weight="normal" fill="#000" stroke="#000" stroke-width="0.4" textLength="279.74" lengthAdjust="spacingAndGlyphs" >growth model</text>
<g id="panelA">
<rect x="391.3" y="507" width="666.7" height="251" fill="#ebebeb"/>
<rect x="392.2" y="771.5" width="669.3" height="254" fill="#ebebeb"/>
<rect x="421.3" y="741.0" width="20.3" height="7.7" fill="#eedebe" stroke="#f9ae2e" stroke-width="2.5"/>
<rect x="441.6" y="650.8" width="20.3" height="97.9" fill="#eedebe" stroke="#f9ae2e" stroke-width="2.5"/>
<rect x="461.9" y="518.3" width="20.3" height="230.4" fill="#eedebe" stroke="#f9ae2e" stroke-width="2.5"/>
<rect x="482.2" y="595.1" width="20.3" height="153.6" fill="#eedebe" stroke="#f9ae2e" stroke-width="2.5"/>
<rect x="502.5" y="609.5" width="20.3" height="139.2" fill="#eedebe" stroke="#f9ae2e" stroke-width="2.5"/>
<rect x="522.8" y="677.7" width="20.3" height="71.0" fill="#eedebe" stroke="#f9ae2e" stroke-width="2.5"/>
<rect x="543.1" y="675.7" width="20.3" height="73.0" fill="#eedebe" stroke="#f9ae2e" stroke-width="2.5"/>
<rect x="563.4" y="702.6" width="20.3" height="46.1" fill="#eedebe" stroke="#f9ae2e" stroke-width="2.5"/>
<rect x="583.7" y="714.1" width="20.3" height="34.6" fill="#eedebe" stroke="#f9ae2e" stroke-width="2.5"/>
<rect x="604.0" y="716.1" width="20.3" height="32.6" fill="#eedebe" stroke="#f9ae2e" stroke-width="2.5"/>
<rect x="624.3" y="733.3" width="20.3" height="15.4" fill="#eedebe" stroke="#f9ae2e" stroke-width="2.5"/>
<rect x="644.6" y="729.5" width="20.3" height="19.2" fill="#eedebe" stroke="#f9ae2e" stroke-width="2.5"/>
<rect x="664.9" y="729.5" width="20.3" height="19.2" fill="#eedebe" stroke="#f9ae2e" stroke-width="2.5"/>
<rect x="685.2" y="731.4" width="20.3" height="17.3" fill="#eedebe" stroke="#f9ae2e" stroke-width="2.5"/>
<rect x="705.5" y="725.7" width="20.3" height="23.0" fill="#eedebe" stroke="#f9ae2e" stroke-width="2.5"/>
<rect x="725.8" y="731.4" width="20.3" height="17.3" fill="#eedebe" stroke="#f9ae2e" stroke-width="2.5"/>
<rect x="746.1" y="730.5" width="20.3" height="18.2" fill="#eedebe" stroke="#f9ae2e" stroke-width="2.5"/>
<rect x="766.4" y="746.8" width="20.3" height="1.9" fill="#eedebe" stroke="#f9ae2e" stroke-width="2.5"/>
<rect x="786.7" y="735.3" width="20.3" height="13.4" fill="#eedebe" stroke="#f9ae2e" stroke-width="2.5"/>
<rect x="807.0" y="742.9" width="20.3" height="5.8" fill="#eedebe" stroke="#f9ae2e" stroke-width="2.5"/>
<rect x="827.3" y="739.1" width="20.3" height="9.6" fill="#eedebe" stroke="#f9ae2e" stroke-width="2.5"/>
<rect x="847.6" y="742.9" width="20.3" height="5.8" fill="#eedebe" stroke="#f9ae2e" stroke-width="2.5"/>
<rect x="867.9" y="746.8" width="20.3" height="1.9" fill="#eedebe" stroke="#f9ae2e" stroke-width="2.5"/>
<rect x="888.2" y="742.0" width="20.3" height="6.7" fill="#eedebe" stroke="#f9ae2e" stroke-width="2.5"/>
<rect x="908.5" y="748.7" width="20.3" height="0.0" fill="#eedebe" stroke="#f9ae2e" stroke-width="2.5"/>
<rect x="928.8" y="740.3" width="20.3" height="8.4" fill="#eedebe" stroke="#f9ae2e" stroke-width="2.5"/>
<rect x="949.1" y="742.9" width="20.3" height="5.8" fill="#eedebe" stroke="#f9ae2e" stroke-width="2.5"/>
<rect x="969.4" y="748.7" width="20.3" height="0.0" fill="#eedebe" stroke="#f9ae2e" stroke-width="2.5"/>
<rect x="989.7" y="748.7" width="20.3" height="0.0" fill="#eedebe" stroke="#f9ae2e" stroke-width="2.5"/>
<rect x="1010.0" y="746.8" width="20.3" height="1.9" fill="#eedebe" stroke="#f9ae2e" stroke-width="2.5"/>
<line x1="420.1" x2="1031.5" y1="748.7" y2="748.7" stroke="#f9ae2e" stroke-width="2.5"/>
<rect x="423.0" y="910.3" width="20.4" height="104.7" fill="#eedebe" stroke="#f9ae2e" stroke-width="2.5"/>
<rect x="443.4" y="782.4" width="20.4" height="232.6" fill="#eedebe" stroke="#f9ae2e" stroke-width="2.5"/>
<rect x="463.7" y="782.4" width="20.4" height="232.6" fill="#eedebe" stroke="#f9ae2e" stroke-width="2.5"/>
<rect x="484.1" y="782.4" width="20.4" height="232.6" fill="#eedebe" stroke="#f9ae2e" stroke-width="2.5"/>
<rect x="504.4" y="852.2" width="20.4" height="162.8" fill="#eedebe" stroke="#f9ae2e" stroke-width="2.5"/>
<rect x="524.8" y="887.1" width="20.4" height="127.9" fill="#eedebe" stroke="#f9ae2e" stroke-width="2.5"/>
<rect x="545.1" y="887.1" width="20.4" height="127.9" fill="#eedebe" stroke="#f9ae2e" stroke-width="2.5"/>
<rect x="565.5" y="980.1" width="20.4" height="34.9" fill="#eedebe" stroke="#f9ae2e" stroke-width="2.5"/>
<rect x="585.8" y="922.0" width="20.4" height="93.0" fill="#eedebe" stroke="#f9ae2e" stroke-width="2.5"/>
<rect x="606.1" y="956.9" width="20.4" height="58.2" fill="#eedebe" stroke="#f9ae2e" stroke-width="2.5"/>
<rect x="626.5" y="956.9" width="20.4" height="58.2" fill="#eedebe" stroke="#f9ae2e" stroke-width="2.5"/>
<rect x="646.9" y="956.9" width="20.4" height="58.2" fill="#eedebe" stroke="#f9ae2e" stroke-width="2.5"/>
<rect x="667.2" y="991.7" width="20.4" height="23.3" fill="#eedebe" stroke="#f9ae2e" stroke-width="2.5"/>
<rect x="687.5" y="1003.4" width="20.4" height="11.6" fill="#eedebe" stroke="#f9ae2e" stroke-width="2.5"/>
<rect x="707.9" y="1015.0" width="20.4" height="0.0" fill="#eedebe" stroke="#f9ae2e" stroke-width="2.5"/>
<rect x="728.2" y="1015.0" width="20.4" height="0.0" fill="#eedebe" stroke="#f9ae2e" stroke-width="2.5"/>
<rect x="748.6" y="1015.0" width="20.4" height="0.0" fill="#eedebe" stroke="#f9ae2e" stroke-width="2.5"/>
<rect x="769.0" y="1015.0" width="20.4" height="0.0" fill="#eedebe" stroke="#f9ae2e" stroke-width="2.5"/>
<rect x="789.3" y="1003.4" width="20.4" height="11.6" fill="#eedebe" stroke="#f9ae2e" stroke-width="2.5"/>
<rect x="809.7" y="980.1" width="20.4" height="34.9" fill="#eedebe" stroke="#f9ae2e" stroke-width="2.5"/>
<rect x="830.0" y="1015.0" width="20.4" height="0.0" fill="#eedebe" stroke="#f9ae2e" stroke-width="2.5"/>
<rect x="850.4" y="1003.4" width="20.4" height="11.6" fill="#eedebe" stroke="#f9ae2e" stroke-width="2.5"/>
<rect x="870.7" y="1015.0" width="20.4" height="0.0" fill="#eedebe" stroke="#f9ae2e" stroke-width="2.5"/>
<rect x="891.0" y="1015.0" width="20.4" height="0.0" fill="#eedebe" stroke="#f9ae2e" stroke-width="2.5"/>
<rect x="911.4" y="1015.0" width="20.4" height="0.0" fill="#eedebe" stroke="#f9ae2e" stroke-width="2.5"/>
<rect x="931.8" y="1015.0" width="20.4" height="0.0" fill="#eedebe" stroke="#f9ae2e" stroke-width="2.5"/>
<rect x="952.1" y="1015.0" width="20.4" height="0.0" fill="#eedebe" stroke="#f9ae2e" stroke-width="2.5"/>
<rect x="972.5" y="1015.0" width="20.4" height="0.0" fill="#eedebe" stroke="#f9ae2e" stroke-width="2.5"/>
<rect x="992.8" y="1015.0" width="20.4" height="0.0" fill="#eedebe" stroke="#f9ae2e" stroke-width="2.5"/>
<rect x="1013.2" y="1003.4" width="20.4" height="11.6" fill="#eedebe" stroke="#f9ae2e" stroke-width="2.5"/>
<line x1="421.8" x2="1034.7" y1="1015" y2="1015" stroke="#f9ae2e" stroke-width="2.5"/>
<line x1="382.7" x2="391.3" y1="508.3" y2="508.3" stroke="#808080" stroke-width="2.4"/>
<line x1="382.7" x2="391.3" y1="556.3" y2="556.3" stroke="#808080" stroke-width="2.4"/>
<line x1="382.7" x2="391.3" y1="604.3" y2="604.3" stroke="#808080" stroke-width="2.4"/>
<line x1="382.7" x2="391.3" y1="652.3" y2="652.3" stroke="#808080" stroke-width="2.4"/>
<line x1="382.7" x2="391.3" y1="700.9" y2="700.9" stroke="#808080" stroke-width="2.4"/>
<line x1="382.7" x2="391.3" y1="749" y2="749" stroke="#808080" stroke-width="2.4"/>
<line x1="383.6" x2="392" y1="782.9" y2="782.9" stroke="#808080" stroke-width="2.4"/>
<line x1="383.6" x2="392" y1="840.4" y2="840.4" stroke="#808080" stroke-width="2.4"/>
<line x1="383.6" x2="392" y1="897.8" y2="897.8" stroke="#808080" stroke-width="2.4"/>
<line x1="383.6" x2="392" y1="957.2" y2="957.2" stroke="#808080" stroke-width="2.4"/>
<line x1="383.6" x2="392" y1="1014.7" y2="1014.7" stroke="#808080" stroke-width="2.4"/>
<line x1="499" x2="499" y1="759" y2="764.4" stroke="#555" stroke-width="2"/>
<line x1="633.3" x2="633.3" y1="759" y2="764.4" stroke="#555" stroke-width="2"/>
<line x1="768.1" x2="768.1" y1="759" y2="764.4" stroke="#555" stroke-width="2"/>
<line x1="902.6" x2="902.6" y1="759" y2="764.4" stroke="#555" stroke-width="2"/>
<line x1="1037.1" x2="1037.1" y1="759" y2="764.4" stroke="#555" stroke-width="2"/>
<line x1="472.6" x2="472.6" y1="1025.5" y2="1032" stroke="#808080" stroke-width="2.2"/>
<line x1="593.3" x2="593.3" y1="1025.5" y2="1032" stroke="#808080" stroke-width="2.2"/>
<line x1="716" x2="716" y1="1025.5" y2="1032" stroke="#808080" stroke-width="2.2"/>
<line x1="836.5" x2="836.5" y1="1025.5" y2="1032" stroke="#808080" stroke-width="2.2"/>
<line x1="957.4" x2="957.4" y1="1025.5" y2="1032" stroke="#808080" stroke-width="2.2"/>
</g>
<text x="327.15" y="566.0" font-size="25.8" font-weight="normal" fill="#000" stroke="#000" stroke-width="0.55" textLength="42.81" lengthAdjust="spacingAndGlyphs" >100</text>
<text x="327.10" y="663.6" font-size="25.8" font-weight="normal" fill="#000" stroke="#000" stroke-width="0.55" textLength="28.85" lengthAdjust="spacingAndGlyphs" >50</text>
<text x="327.60" y="760.3" font-size="25.8" font-weight="normal" fill="#000" stroke="#000" stroke-width="0.55" textLength="14.72" lengthAdjust="spacingAndGlyphs" >0</text>
<text x="327.60" y="799.2" font-size="25.8" font-weight="normal" fill="#000" stroke="#000" stroke-width="0.55" textLength="28.06" lengthAdjust="spacingAndGlyphs" >20</text>
<text x="326.70" y="907.2" font-size="25.8" font-weight="normal" fill="#000" stroke="#000" stroke-width="0.55" textLength="30.20" lengthAdjust="spacingAndGlyphs" >10</text>
<text x="328.12" y="1017.0" font-size="25.8" font-weight="normal" fill="#000" stroke="#000" stroke-width="0.55" textLength="14.40" lengthAdjust="spacingAndGlyphs" >0</text>
<text x="453.82" y="1061.6" font-size="29.3" font-weight="normal" fill="#000" stroke="#000" stroke-width="0.55" textLength="32.86" lengthAdjust="spacingAndGlyphs" >20</text>
<text x="703.72" y="1061.6" font-size="29.3" font-weight="normal" fill="#000" stroke="#000" stroke-width="0.55" textLength="32.68" lengthAdjust="spacingAndGlyphs" >40</text>
<text x="945.32" y="1061.6" font-size="29.3" font-weight="normal" fill="#000" stroke="#000" stroke-width="0.55" textLength="32.74" lengthAdjust="spacingAndGlyphs" >60</text>
<text x="544.88" y="1087.8" font-size="25.8" font-weight="normal" fill="#000" stroke="#000" stroke-width="0.55" textLength="394.92" lengthAdjust="spacingAndGlyphs" >Survey zone transit time (hours)</text>
<text transform="translate(316.2,796.2) rotate(-90)" font-size="27" stroke="#000" stroke-width="0.55" textLength="73.5" lengthAdjust="spacingAndGlyphs">Count</text>
<text x="399.60" y="548.8" font-size="41.5" font-weight="bold" fill="#000" stroke="#000" stroke-width="0.4" textLength="30.46" lengthAdjust="spacingAndGlyphs" >A</text>
<text x="504.20" y="553.2" font-size="25.8" font-weight="normal" fill="#000" stroke="#000" stroke-width="0.55" textLength="155.94" lengthAdjust="spacingAndGlyphs" >No response</text>
<text x="519.20" y="819.3" font-size="25.8" font-weight="normal" fill="#000" stroke="#000" stroke-width="0.55" textLength="122.75" lengthAdjust="spacingAndGlyphs" >Response</text>
<g id="panelB">
<rect x="1189.7" y="505" width="690.3" height="519" fill="#e6e6e6"/>
<rect x="1196" y="511" width="678.5" height="508.3" fill="#f2f2f2"/>
<line x1="1191" x2="1875" y1="700.3" y2="700.3" stroke="#92d050" stroke-width="2.8" stroke-dasharray="8.6,5.7"/>
<line x1="1191" x2="1879" y1="958.5" y2="958.5" stroke="#6b9650" stroke-width="2.5" stroke-dasharray="8.6,5.9"/>
<circle cx="1191.5" cy="700.3" r="8.3" fill="#70ad47"/>
<circle cx="1396.5" cy="700.3" r="8.3" fill="#70ad47"/>
<circle cx="1603.5" cy="700.3" r="8.3" fill="#70ad47"/>
<circle cx="1808.8" cy="636.9" r="8.3" fill="#70ad47"/>
<circle cx="1601.6" cy="634.5" r="6.8" fill="#f2f2f2" stroke="#70ad47" stroke-width="1.8"/>
<circle cx="1806.7" cy="571.5" r="7" fill="#f2f2f2" stroke="#70ad47" stroke-width="1.8"/>
<circle cx="1236.5" cy="602.2" r="10" fill="#70ad47"/>
<circle cx="1236.5" cy="639" r="9" fill="#f2f2f2" stroke="#70ad47" stroke-width="1.8"/>
<line x1="1622.7" x2="1622.7" y1="693.7" y2="651.3" stroke="#70ad47" stroke-width="2.4"/><polygon points="1622.7,636.3 1630.7,652.3 1614.7,652.3" fill="#70ad47"/>
<line x1="1845" x2="1845" y1="688.3" y2="596.5" stroke="#70ad47" stroke-width="2.4"/><polygon points="1845,582.5 1853.4,597.5 1836.6,597.5" fill="#70ad47"/>
<line x1="1633.2" x2="1633.2" y1="951.5" y2="909" stroke="#375623" stroke-width="2.4"/><polygon points="1633.2,895 1640.7,910 1625.7,910" fill="#375623"/>
<line x1="1844.8" x2="1844.8" y1="948" y2="850.1999999999999" stroke="#375623" stroke-width="2.4"/><polygon points="1844.8,835.8 1852.75,851.1999999999999 1836.85,851.1999999999999" fill="#375623"/>
<polygon points="1192.5,948.3 1201.7,965.4 1183.3,965.4" fill="#375623"/>
<polygon points="1397.2,948.3 1406.6,965.4 1387.8,965.4" fill="#375623"/>
<polygon points="1602.6,884.6 1611.8,902.3 1593.4,902.3" fill="#375623"/>
<polygon points="1808.8,886.0 1816.6,900.0 1801.0,900.0" fill="#375623"/>
<polygon points="1807.9,822.8 1815.2,835.8 1800.6,835.8" fill="#f2f2f2" stroke="#375623" stroke-width="1.7" stroke-linejoin="miter"/>
<polygon points="1241.3,851.2 1250.5,867.5 1232.0,867.5" fill="#375623"/>
<polygon points="1244.5,890.3 1253.0,905.2 1236.0,905.2" fill="#f2f2f2" stroke="#375623" stroke-width="1.7" stroke-linejoin="miter"/>
</g>
<text x="1200.54" y="548.8" font-size="41.5" font-weight="bold" fill="#000" stroke="#000" stroke-width="0.4" textLength="29.76" lengthAdjust="spacingAndGlyphs" >B</text>
<text x="1256.96" y="610.0" font-size="25.5" font-weight="normal" fill="#000" stroke="#000" stroke-width="0.55" textLength="149.32" lengthAdjust="spacingAndGlyphs" >No lactation</text>
<text x="1260.20" y="646.8" font-size="25.5" font-weight="normal" fill="#000" stroke="#000" stroke-width="0.55" textLength="114.22" lengthAdjust="spacingAndGlyphs" >Lactation</text>
<text x="1260.20" y="871.5" font-size="25.5" font-weight="normal" fill="#000" stroke="#000" stroke-width="0.55" textLength="150.65" lengthAdjust="spacingAndGlyphs" >No lactation</text>
<text x="1262.36" y="904.5" font-size="25.5" font-weight="normal" fill="#000" stroke="#000" stroke-width="0.55" textLength="114.28" lengthAdjust="spacingAndGlyphs" >Lactation</text>
<text x="1234.47" y="730.5" font-size="25.6" font-weight="normal" fill="#000" stroke="#000" stroke-width="0.55" textLength="78.85" lengthAdjust="spacingAndGlyphs" >30,000</text>
<text x="1324.31" y="730.5" font-size="25.6" font-weight="normal" fill="#000" stroke="#000" stroke-width="0.55" textLength="29.33" lengthAdjust="spacingAndGlyphs" >kg</text>
<text x="1236.47" y="989.6" font-size="25.6" font-weight="normal" fill="#000" stroke="#000" stroke-width="0.55" textLength="79.01" lengthAdjust="spacingAndGlyphs" >35,000</text>
<text x="1326.31" y="989.6" font-size="25.6" font-weight="normal" fill="#000" stroke="#000" stroke-width="0.55" textLength="29.12" lengthAdjust="spacingAndGlyphs" >kg</text>
<text x="1604.05" y="630.5" font-size="25.7" font-weight="normal" fill="#000" stroke="#000" stroke-width="0.55" textLength="60.23" lengthAdjust="spacingAndGlyphs" >-10%</text>
<text x="1814.43" y="571.5" font-size="25.7" font-weight="normal" fill="#000" stroke="#000" stroke-width="0.55" textLength="58.47" lengthAdjust="spacingAndGlyphs" >-20%</text>
<text x="1614.10" y="888.5" font-size="25.7" font-weight="normal" fill="#000" stroke="#000" stroke-width="0.55" textLength="60.61" lengthAdjust="spacingAndGlyphs" >-10%</text>
<text x="1810.68" y="825.3" font-size="25.7" font-weight="normal" fill="#000" stroke="#000" stroke-width="0.55" textLength="61.22" lengthAdjust="spacingAndGlyphs" >-20%</text>
<text x="1123.72" y="711.1" font-size="24.5" font-weight="normal" fill="#000" stroke="#000" stroke-width="0.55" textLength="51.37" lengthAdjust="spacingAndGlyphs" >0.58</text>
<text x="1124.47" y="841.4" font-size="24.5" font-weight="normal" fill="#000" stroke="#000" stroke-width="0.55" textLength="51.01" lengthAdjust="spacingAndGlyphs" >0.56</text>
<text x="1124.47" y="972.3" font-size="24.5" font-weight="normal" fill="#000" stroke="#000" stroke-width="0.55" textLength="50.11" lengthAdjust="spacingAndGlyphs" >0.54</text>
<text x="1193.10" y="1062.0" font-size="29.3" font-weight="normal" fill="#000" stroke="#000" stroke-width="0.55" textLength="17.30" lengthAdjust="spacingAndGlyphs" >0</text>
<text x="1344.04" y="1062.0" font-size="29.3" font-weight="normal" fill="#000" stroke="#000" stroke-width="0.55" textLength="32.64" lengthAdjust="spacingAndGlyphs" >20</text>
<text x="1512.94" y="1062.0" font-size="29.3" font-weight="normal" fill="#000" stroke="#000" stroke-width="0.55" textLength="31.62" lengthAdjust="spacingAndGlyphs" >40</text>
<text x="1687.88" y="1062.0" font-size="29.3" font-weight="normal" fill="#000" stroke="#000" stroke-width="0.55" textLength="32.80" lengthAdjust="spacingAndGlyphs" >60</text>
<text x="1854.10" y="1062.0" font-size="29.3" font-weight="normal" fill="#000" stroke="#000" stroke-width="0.55" textLength="32.30" lengthAdjust="spacingAndGlyphs" >80</text>
<text x="1410.14" y="1095.5" font-size="25.3" font-weight="normal" fill="#000" stroke="#000" stroke-width="0.55" textLength="291.60" lengthAdjust="spacingAndGlyphs" >Migratory delay (hours)</text>
<text transform="translate(1111.7,997.3) rotate(-90)" font-size="26.5" stroke="#000" stroke-width="0.55" textLength="323.5" lengthAdjust="spacingAndGlyphs">Proportion of blubber lost</text>
</svg></body></html>
